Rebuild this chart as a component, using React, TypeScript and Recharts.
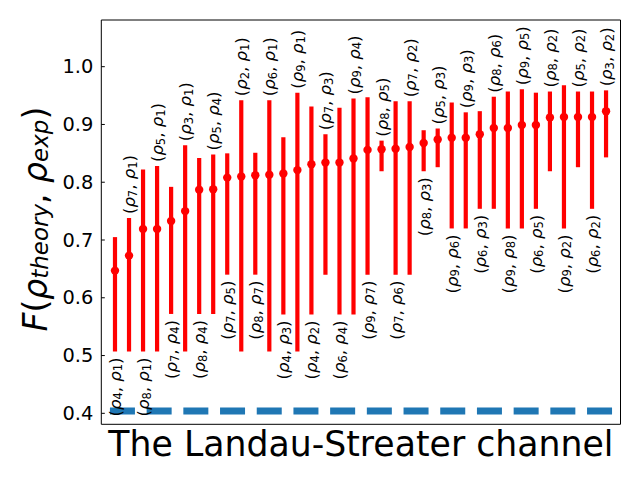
import React from 'react'
import {
  ComposedChart,
  Scatter,
  ErrorBar,
  XAxis,
  YAxis,
  ReferenceArea,
  ReferenceLine,
  Label,
} from 'recharts'

// pair labels (rho_a, rho_b)
const pairFirst = [4, 7, 8, 5, 7, 3, 8, 5, 7, 2, 8, 6, 4, 9, 4, 7, 6, 9, 9, 8, 7, 7, 8, 5, 9, 9, 6, 8, 9, 9, 6, 8, 9, 5, 6, 3]
const pairSecond = [1, 1, 1, 1, 4, 1, 4, 4, 5, 1, 7, 1, 3, 1, 2, 3, 4, 4, 7, 5, 6, 2, 3, 3, 6, 3, 3, 6, 8, 5, 5, 2, 2, 2, 2, 2]

const fidelity = [
  0.647, 0.673, 0.719, 0.719, 0.733, 0.75, 0.787, 0.788, 0.808, 0.81, 0.812, 0.813,
  0.815, 0.821, 0.831, 0.834, 0.834, 0.841, 0.856, 0.857, 0.858, 0.861, 0.868, 0.874,
  0.877, 0.877, 0.883, 0.894, 0.894, 0.899, 0.899, 0.912, 0.913, 0.913, 0.913, 0.923,
]
const lower = [
  0.507, 0.507, 0.507, 0.507, 0.572, 0.507, 0.572, 0.572, 0.64, 0.507, 0.64, 0.507,
  0.571, 0.507, 0.571, 0.64, 0.571, 0.571, 0.64, 0.819, 0.64, 0.64, 0.819, 0.826,
  0.72, 0.72, 0.754, 0.754, 0.72, 0.72, 0.754, 0.819, 0.72, 0.826, 0.754, 0.843,
]
const upper = [
  0.705, 0.738, 0.822, 0.828, 0.792, 0.864, 0.842, 0.848, 0.85, 0.942, 0.851, 0.942,
  0.878, 0.955, 0.931, 0.883, 0.929, 0.945, 0.947, 0.872, 0.94, 0.94, 0.89, 0.893,
  0.938, 0.921, 0.923, 0.948, 0.957, 0.961, 0.955, 0.957, 0.968, 0.957, 0.957, 0.959,
]

const yTicks = [0.4, 0.5, 0.6, 0.7, 0.8, 0.9, 1.0]
const baselineValue = 0.404
const baselineSpan = [-0.36, 35.57]

const xDomain = [-0.976, 36.03]
const yDomain = [0.381, 1.0808]

const table = fidelity.map((f, i) => ({
  x: i,
  f,
  err: [f - lower[i], upper[i] - f],
}))

const labelRows = fidelity.map((_, i) => ({
  x: i,
  y: i % 2 === 1 ? upper[i] : lower[i],
  a: pairFirst[i],
  b: pairSecond[i],
  above: i % 2 === 1,
}))

const FONT = 'DejaVu Sans'

const Dot = (props: any) => <circle cx={props.cx} cy={props.cy} r={4.2} fill="#ff0000" />

const PairLabel = (props: any) => {
  const { cx, cy, payload } = props
  const above = payload.above
  const y0 = above ? cy - 4 : cy + 6
  return (
    <text
      x={cx}
      y={y0}
      transform={`rotate(-90 ${cx} ${y0})`}
      textAnchor={above ? 'start' : 'end'}
      dominantBaseline="central"
      fontFamily={FONT}
      fontSize={16.5}
      fill="#000"
    >
      <tspan>(</tspan>
      <tspan fontStyle="italic">ρ</tspan>
      <tspan fontSize={11.5} dy={3.5}>{payload.a}</tspan>
      <tspan dy={-3.5}>, </tspan>
      <tspan fontStyle="italic">ρ</tspan>
      <tspan fontSize={11.5} dy={3.5}>{payload.b}</tspan>
      <tspan dy={-3.5}>)</tspan>
    </text>
  )
}

const YTick = (props: any) => {
  const { x, y, payload } = props
  return (
    <g>
      <line x1={x + 8} x2={x + 11.5} y1={y} y2={y} stroke="#000" strokeWidth={1} />
      <text x={x} y={y} textAnchor="end" dominantBaseline="central" fontFamily={FONT} fontSize={19.4} fill="#000">
        {Number(payload.value).toFixed(1)}
      </text>
    </g>
  )
}

const XTitle = (props: any) => {
  const vb = props.viewBox
  return (
    <text x={vb.x + vb.width / 2} y={vb.y + 31.7} textAnchor="middle" fontFamily={FONT} fontSize={34.7} fill="#000">
      The Landau-Streater channel
    </text>
  )
}

const YTitle = (props: any) => {
  const vb = props.viewBox
  const cx = 35
  const cy = vb.y + vb.height / 2 - 3
  return (
    <text
      x={cx}
      y={cy}
      transform={`rotate(-90 ${cx} ${cy})`}
      textAnchor="middle"
      dominantBaseline="central"
      fontFamily={FONT}
      fontSize={33}
      fill="#000"
    >
      <tspan fontStyle="italic">F</tspan>
      <tspan>(</tspan>
      <tspan fontStyle="italic">ρ</tspan>
      <tspan fontStyle="italic" fontSize={23} dy={5}>theory</tspan>
      <tspan dy={-5}>, </tspan>
      <tspan fontStyle="italic">ρ</tspan>
      <tspan fontStyle="italic" fontSize={23} dy={5}>exp</tspan>
      <tspan dy={-5}>)</tspan>
    </text>
  )
}

export default function App() {
  return (
    <div style={{ position: 'absolute', left: 0, top: 0, background: '#fff' }}>
      <ComposedChart
        width={640}
        height={480}
        data={table}
        margin={{ top: 20, right: 19.5, bottom: 0, left: 0 }}
      >
        <XAxis
          type="number"
          dataKey="x"
          domain={xDomain}
          allowDataOverflow
          tick={false}
          tickLine={false}
          axisLine={false}
          height={55.7}
        >
          <Label content={<XTitle />} />
        </XAxis>
        <YAxis
          type="number"
          domain={yDomain}
          allowDataOverflow
          ticks={yTicks}
          tick={<YTick />}
          tickSize={0}
          tickMargin={8}
          tickLine={false}
          axisLine={false}
          width={101.3}
        >
          <Label content={<YTitle />} />
        </YAxis>
        <ReferenceArea
          x1={xDomain[0]}
          x2={xDomain[1]}
          y1={yDomain[0]}
          y2={yDomain[1]}
          fill="none"
          fillOpacity={0}
          stroke="#000"
          strokeWidth={1}
          ifOverflow="visible"
        />
        <ReferenceLine
          segment={[
            { x: baselineSpan[0], y: baselineValue },
            { x: baselineSpan[1], y: baselineValue },
          ]}
          stroke="#1f77b4"
          strokeWidth={7}
          strokeDasharray="25 11.7"
          ifOverflow="visible"
        />
        <Scatter dataKey="f" shape={<Dot />} isAnimationActive={false}>
          <ErrorBar dataKey="err" direction="y" width={0} stroke="#ff0000" strokeWidth={4.2} isAnimationActive={false} />
        </Scatter>
        <Scatter data={labelRows} dataKey="y" shape={<PairLabel />} isAnimationActive={false} />
      </ComposedChart>
    </div>
  )
}
